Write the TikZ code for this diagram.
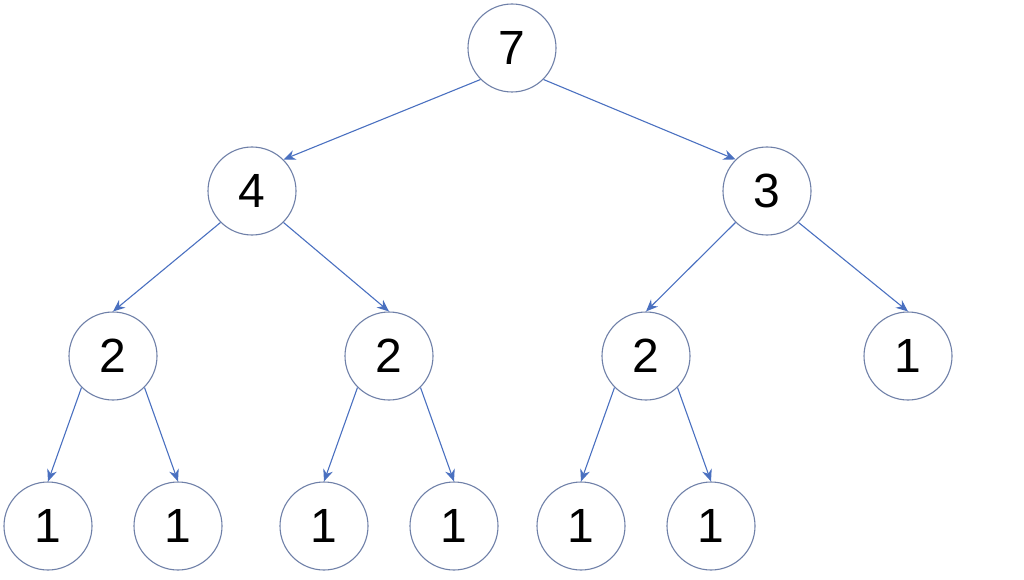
\documentclass[tikz,border=0pt]{standalone}
\usepackage{fontspec}
\setmainfont{Liberation Sans}
\usetikzlibrary{arrows.meta}
\definecolor{ringcol}{HTML}{6F80A8}
\definecolor{edgecol}{HTML}{4A70C0}
\begin{document}
\begin{tikzpicture}[x=1pt,y=-1pt,
  tnode/.style={circle,draw=ringcol,line width=1.1pt,fill=white,minimum size=88pt,inner sep=0pt,font=\fontsize{48}{48}\selectfont},
  edge/.style={draw=edgecol,line width=1.1pt,-{Stealth[length=12pt,width=10pt]}}]
\useasboundingbox (0,0) rectangle (1024,580);
\node[tnode] (n7) at (512,48) {7};
\node[tnode] (n4) at (252,191) {4};
\node[tnode] (n3) at (767,191) {3};
\node[tnode] (a2) at (113,356) {2};
\node[tnode] (b2) at (389,356) {2};
\node[tnode] (c2) at (646,356) {2};
\node[tnode] (r1) at (908,356) {1};
\node[tnode] (l1) at (48,526) {1};
\node[tnode] (l2) at (178,526) {1};
\node[tnode] (l3) at (324,526) {1};
\node[tnode] (l4) at (454,526) {1};
\node[tnode] (l5) at (581,526) {1};
\node[tnode] (l6) at (711,526) {1};
\draw[edge] (n7.south west) -- (n4.north east);
\draw[edge] (n7.south east) -- (n3.north west);
\draw[edge] (n4.south west) -- (a2.north);
\draw[edge] (n4.south east) -- (b2.north);
\draw[edge] (n3.south west) -- (c2.north);
\draw[edge] (n3.south east) -- (r1.north);
\draw[edge] (a2.south west) -- (l1.north);
\draw[edge] (a2.south east) -- (l2.north);
\draw[edge] (b2.south west) -- (l3.north);
\draw[edge] (b2.south east) -- (l4.north);
\draw[edge] (c2.south west) -- (l5.north);
\draw[edge] (c2.south east) -- (l6.north);
\end{tikzpicture}
\end{document}
